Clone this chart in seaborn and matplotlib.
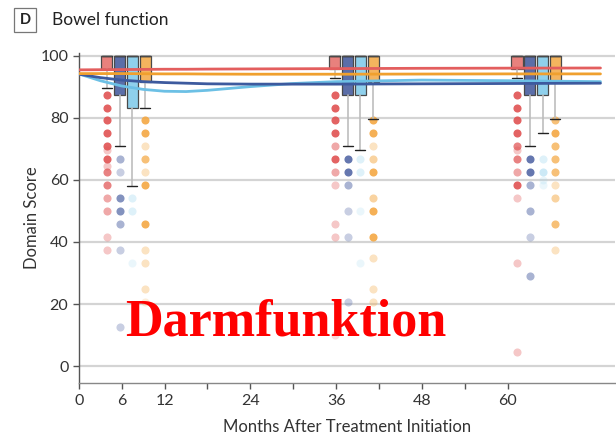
import matplotlib
matplotlib.use("Agg")
import matplotlib.pyplot as plt
import seaborn as sns
import pandas as pd
import numpy as np

# ---------------- data ----------------
arms = ["red", "blue", "lightblue", "orange"]
group_months = [6.6, 38.5, 64.0]          # x centre of each box group
arm_offsets = [-2.7, -0.9, 0.9, 2.7]

# box statistics per arm, one entry per time group
q1_red = [95.9, 95.9, 95.7]
q1_blue = [87.3, 87.5, 87.5]
q1_lightblue = [83.2, 87.5, 87.5]
q1_orange = [91.6, 91.6, 91.6]
q3_all = [100, 100, 100]
med_all = [100, 100, 100]
lo_red = [89.8, 93.0, 93.0]
lo_blue = [70.8, 70.8, 70.8]
lo_lightblue = [58.2, 69.8, 75.0]
lo_orange = [83.3, 79.5, 79.8]

# outliers (value, number of overlapping patients)
out_red = [
    [(87.5, 5), (83.3, 5), (79.2, 5), (75, 5), (70.8, 5), (69.6, 2), (66.7, 5), (64.6, 2),
     (62.5, 4), (58.3, 4), (54.2, 3), (50, 3), (41.7, 2), (37.5, 2)],
    [(87.5, 5), (83.3, 5), (79.2, 5), (75, 5), (70.8, 3), (66.7, 5), (62.5, 3), (58.3, 2),
     (45.8, 2), (41.7, 2), (10.0, 1)],
    [(87.5, 5), (83.3, 5), (79.2, 5), (75, 5), (70.8, 4), (69.6, 2), (66.7, 4), (62.5, 3),
     (58.3, 5), (54.2, 2), (33.3, 2), (4.6, 2)],
]
out_blue = [
    [(66.7, 3), (62.5, 2), (54.2, 4), (50, 4), (45.8, 3), (37.5, 2), (12.5, 2)],
    [(66.7, 5), (62.5, 5), (58.3, 3), (50, 2), (41.7, 2), (20.8, 2)],
    [(66.7, 5), (62.5, 5), (58.3, 3), (50, 3), (41.7, 2), (28.9, 3)],
]
out_lightblue = [
    [(54.2, 2), (50, 2), (33.3, 1)],
    [(66.7, 2), (62.5, 2), (50, 1), (33.3, 1)],
    [(66.7, 2), (62.5, 3), (60.0, 1), (58.3, 1)],
]
out_orange = [
    [(79.2, 5), (75, 5), (70.8, 2), (66.7, 4), (62.5, 2), (58.3, 5), (45.8, 5), (37.5, 2),
     (33.3, 2), (25, 2), (20.8, 1)],
    [(79.2, 5), (75, 5), (70.8, 2), (66.7, 3), (62.5, 5), (54.2, 3), (50, 5), (41.7, 5),
     (34.7, 2), (24.7, 2), (20.8, 2)],
    [(79.2, 4), (75, 5), (70.8, 4), (66.7, 4), (62.5, 4), (58.3, 2), (54.2, 3), (45.8, 4),
     (37.5, 2)],
]

# smoothed trajectories
line_months = [0, 3, 6, 9, 12, 15, 18, 24, 30, 36, 48, 60, 73]
line_red = [95.5, 95.55, 95.6, 95.65, 95.7, 95.7, 95.75, 95.8, 95.85, 95.9, 96.0, 96.05, 96.1]
line_blue = [94.1, 93.0, 92.2, 91.7, 91.4, 91.2, 91.0, 90.9, 90.9, 90.9, 91.0, 91.1, 91.2]
line_lightblue = [94.2, 92.0, 90.3, 89.2, 88.6, 88.5, 88.9, 90.1, 91.1, 91.7, 92.2, 92.0, 91.7]
line_orange = [94.3, 94.3, 94.3, 94.25, 94.2, 94.2, 94.15, 94.1, 94.1, 94.1, 94.15, 94.2, 94.2]

x_ticks = [0, 6, 12, 18, 24, 30, 36, 42, 48, 54, 60]
x_ticklabels = ["0", "6", "12", "", "24", "", "36", "", "48", "", "60"]
y_ticks = [0, 20, 40, 60, 80, 100]

# ---------------- style ----------------
box_fill = {"red": "#E8817D", "blue": "#5B6EA8", "lightblue": "#8FD0EC", "orange": "#F4B45E"}
dot_col = {"red": "#E05252", "blue": "#5468A6", "lightblue": "#9AD5EE", "orange": "#F4A843"}
line_col = {"red": "#E35E5E", "blue": "#3D5A9E", "lightblue": "#6CC0E5", "orange": "#F0A02E"}
alpha_for_count = {1: 0.2, 2: 0.32, 3: 0.5, 4: 0.72, 5: 0.9}

sns.set_theme(style="white")
plt.rcParams["font.family"] = ["Lato", "DejaVu Sans"]
text_col = "#333333"

fig = plt.figure(figsize=(6.16, 4.40), dpi=100)
ax = fig.add_axes([0.128, 0.1293, 0.870, 0.7507])

# grid
for y in y_ticks:
    ax.axhline(y, color="#D4D4D4", lw=1.6, zorder=0)

q1 = {"red": q1_red, "blue": q1_blue, "lightblue": q1_lightblue, "orange": q1_orange}
lo = {"red": lo_red, "blue": lo_blue, "lightblue": lo_lightblue, "orange": lo_orange}
outs = {"red": out_red, "blue": out_blue, "lightblue": out_lightblue, "orange": out_orange}

# outlier dots
rows = []
for a_i, arm in enumerate(arms):
    for g_i, gm in enumerate(group_months):
        for v, c in outs[arm][g_i]:
            rows.append({"arm": arm, "x": gm + arm_offsets[a_i], "y": v, "count": c})
dots = pd.DataFrame(rows)
for arm in arms:
    for c in sorted(dots["count"].unique()):
        sub = dots[(dots.arm == arm) & (dots["count"] == c)]
        if len(sub) == 0:
            continue
        sns.scatterplot(data=sub, x="x", y="y", ax=ax, color=dot_col[arm], s=34,
                        alpha=alpha_for_count[c], linewidth=0, zorder=2, legend=False)

# boxes
for a_i, arm in enumerate(arms):
    stats = []
    positions = []
    for g_i, gm in enumerate(group_months):
        stats.append({"q1": q1[arm][g_i], "q3": q3_all[g_i], "med": med_all[g_i],
                      "whislo": lo[arm][g_i], "whishi": q3_all[g_i], "fliers": []})
        positions.append(gm + arm_offsets[a_i])
    ax.bxp(stats, positions=positions, widths=1.6, patch_artist=True, showfliers=False,
           manage_ticks=False,
           boxprops=dict(facecolor=box_fill[arm], edgecolor="#4a4a4a", linewidth=0.9),
           medianprops=dict(color="#4a4a4a", linewidth=0.9),
           whiskerprops=dict(color="#BDBDBD", linewidth=1.2),
           capprops=dict(color="#222222", linewidth=1.0),
           capwidths=1.4, zorder=3)

# smoothed lines
ldf = pd.DataFrame({
    "month": line_months * 4,
    "score": line_red + line_blue + line_lightblue + line_orange,
    "arm": ["red"] * len(line_months) + ["blue"] * len(line_months)
           + ["lightblue"] * len(line_months) + ["orange"] * len(line_months),
})
for arm in ["lightblue", "blue", "orange", "red"]:
    sub = ldf[ldf.arm == arm]
    sns.lineplot(data=sub, x="month", y="score", ax=ax, color=line_col[arm], lw=2.0,
                 zorder=4, legend=False)

ax.set_xlim(0, 75)
ax.set_ylim(-5.5, 101)
ax.set_xticks(x_ticks)
ax.set_xticklabels(x_ticklabels)
ax.set_yticks(y_ticks)
ax.tick_params(axis="both", direction="out", length=4.5, width=1, color="#555555",
               labelsize=11.5, labelcolor=text_col, pad=3)
ax.tick_params(axis="x", bottom=True)
ax.tick_params(axis="y", left=True)
for s in ["top", "right"]:
    ax.spines[s].set_visible(False)
ax.spines["left"].set_color("#555555")
ax.spines["bottom"].set_color("#888888")
ax.spines["left"].set_linewidth(1.0)
ax.spines["bottom"].set_linewidth(1.0)
ax.set_xlabel("Months After Treatment Initiation", fontsize=12, color=text_col, labelpad=8)
ax.set_ylabel("Domain Score", fontsize=12, color=text_col, labelpad=0)

# panel title
fig.text(25 / 616, 1 - 20 / 440, "D", fontsize=10.5, fontweight="bold", color="#222222",
         ha="center", va="center",
         bbox=dict(boxstyle="square,pad=0.35", facecolor="white", edgecolor="#777777", lw=0.9))
fig.text(52 / 616, 1 - 20 / 440, "Bowel function", fontsize=12.5, color="#222222",
         ha="left", va="center")

# overlay annotation
fig.text(125 / 616, 1 - 335 / 440, "Darmfunktion", fontsize=37.5, color="#FF0000",
         fontweight="bold", family=["Liberation Serif", "DejaVu Serif"], ha="left",
         va="baseline")

fig.savefig("out.png", dpi=100)
